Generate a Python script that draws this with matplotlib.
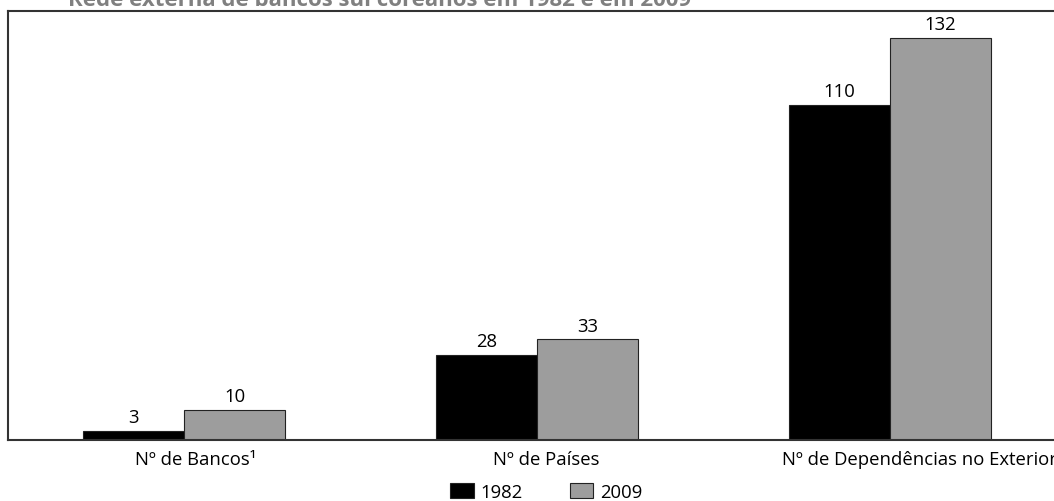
import matplotlib
matplotlib.use("Agg")
import matplotlib.pyplot as plt
import matplotlib.transforms as mtransforms
import numpy as np

plt.rcParams['font.family'] = ['Open Sans', 'DejaVu Sans']

categories = ["Nº de Bancos¹", "Nº de Países", "Nº de Dependências no Exterior"]
series_names = ["1982", "2009"]
values_1982 = [3, 28, 110]
values_2009 = [10, 33, 132]
title = "Rede externa de bancos sul coreanos em 1982 e em 2009"

colors = ["#000000", "#9d9d9d"]
fs = 13.3

fig = plt.figure(figsize=(10.54, 5.02), dpi=100)
ax = fig.add_axes([8 / 1054, 1 - 441 / 502, 1058 / 1054, 429 / 502])

x = np.arange(len(categories))
w = 0.286
b1 = ax.bar(x - w / 2, values_1982, w, color=colors[0], edgecolor="#222222", linewidth=0.8, label=series_names[0])
b2 = ax.bar(x + w / 2, values_2009, w, color=colors[1], edgecolor="#222222", linewidth=0.8, label=series_names[1])

for bars, vals in ((b1, values_1982), (b2, values_2009)):
    for r, v in zip(bars, vals):
        ax.annotate(str(v), (r.get_x() + r.get_width() / 2, v), xytext=(0, 3.5),
                    textcoords="offset points", ha="center", va="bottom", fontsize=fs)

ax.set_xlim(-0.5, 2.5)
ax.set_ylim(0, 140.8)
ax.set_yticks([])
ax.set_xticks(x)
ax.set_xticklabels(categories, fontsize=fs)
ax.tick_params(axis="x", length=0, pad=7)

# nudge the category labels slightly to the right (pixels)
label_shift_px = [11, 9, 30]
for lbl, dx in zip(ax.get_xticklabels(), label_shift_px):
    lbl.set_transform(lbl.get_transform() + mtransforms.Affine2D().translate(dx, 0))

for s in ax.spines.values():
    s.set_color("#333333")
    s.set_linewidth(1.5)
ax.spines["right"].set_visible(False)

fig.text(68 / 1054, 1 - 6 / 502, title, fontsize=16, fontweight="bold",
         color="#808080", ha="left", va="baseline")

leg = fig.legend(handles=[b1, b2], labels=series_names, loc="center",
                 bbox_to_anchor=(546 / 1054, 1 - 493 / 502), ncol=2, frameon=False,
                 fontsize=fs, handlelength=1.28, handleheight=0.83, handletextpad=0.35,
                 columnspacing=2.55, borderpad=0)

fig.savefig("out.png", dpi=100)
